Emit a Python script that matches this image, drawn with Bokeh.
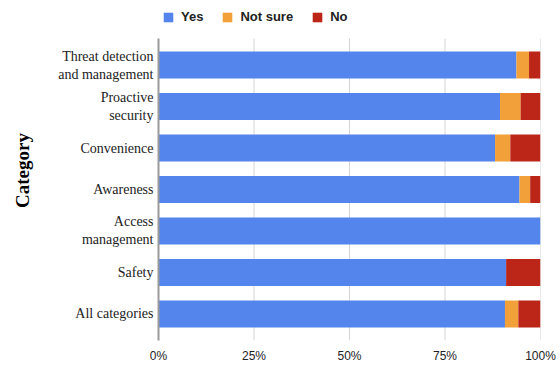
from bokeh.plotting import figure
from bokeh.models import ColumnDataSource, FixedTicker, Legend
from bokeh.embed import file_html
from bokeh.resources import INLINE

# Data (top to bottom in the chart)
categories = ["Threat detection\nand management", "Proactive\nsecurity", "Convenience",
              "Awareness", "Access\nmanagement", "Safety", "All categories"]
yes = [93.7, 89.4, 88.1, 94.5, 100.0, 91.0, 90.7]
not_sure = [3.3, 5.4, 4.0, 2.8, 0.0, 0.0, 3.5]
no = [3.0, 5.2, 7.9, 2.7, 0.0, 9.0, 5.8]
series_names = ["Yes", "Not sure", "No"]
colors = ["#5485EC", "#F2A13A", "#BB2619"]
x_ticks = [0, 25, 50, 75, 100]
x_tick_labels = ["0%", "25%", "50%", "75%", "100%"]

n = len(categories)
ypos = [n - 1 - i for i in range(n)]

source = ColumnDataSource(dict(y=ypos, yes=yes, not_sure=not_sure, no=no))

W, H = 560, 366
TOP, BOTTOM, LEFT, RIGHT = 0, 26, 158, 20
PAD = 0.64          # space above/below the outer bars, in category units
HEADROOM = 0.916    # extra room above the bars for the legend
y_lo, y_hi = -PAD, n - 1 + PAD
p = figure(width=W, height=H, output_backend="svg", toolbar_location=None,
           x_range=(0, 100), y_range=(y_lo, y_hi + HEADROOM),
           min_border_left=LEFT, min_border_right=RIGHT, min_border_top=TOP,
           min_border_bottom=BOTTOM)
p.outline_line_color = None
p.xgrid.grid_line_color = None
p.ygrid.grid_line_color = None

# vertical grid lines, limited to the bar area
grid_x = x_ticks[1:]
p.segment(x0=grid_x, x1=grid_x, y0=[y_lo] * len(grid_x), y1=[y_hi] * len(grid_x),
          line_color="#d6d6d6", line_width=1)

renderers = p.hbar_stack(["yes", "not_sure", "no"], y="y", height=0.65, color=colors,
                         line_color=None, source=source)

frame_h = H - TOP - BOTTOM
legend = Legend(items=[(name, [r]) for name, r in zip(series_names, renderers)],
                orientation="horizontal", location=(4, frame_h - 24),
                glyph_width=12, glyph_height=12, label_standoff=7, spacing=18,
                padding=0, margin=0, border_line_color=None, background_fill_alpha=0,
                label_text_font="Liberation Sans", label_text_font_style="bold",
                label_text_font_size="13px", label_text_color="#222222")
p.add_layout(legend, "center")

# x axis
p.xaxis.ticker = FixedTicker(ticks=x_ticks)
p.xaxis.major_label_overrides = {t: l for t, l in zip(x_ticks, x_tick_labels)}
p.xaxis.axis_line_color = None
p.xaxis.major_tick_line_color = None
p.xaxis.major_tick_out = 0
p.xaxis.major_tick_in = 0
p.xaxis.minor_tick_line_color = None
p.xaxis.minor_tick_out = 0
p.xaxis.major_label_text_font = "Liberation Sans"
p.xaxis.major_label_text_font_size = "12px"
p.xaxis.major_label_text_color = "#222222"
p.xaxis.major_label_standoff = 8

# y axis
p.yaxis.ticker = FixedTicker(ticks=ypos)
p.yaxis.bounds = (y_lo, y_hi)
p.yaxis.major_label_overrides = {y: c for y, c in zip(ypos, categories)}
p.yaxis.axis_line_color = "#9a9a9a"
p.yaxis.axis_line_width = 2
p.yaxis.major_tick_line_color = None
p.yaxis.major_tick_out = 0
p.yaxis.major_tick_in = 0
p.yaxis.minor_tick_line_color = None
p.yaxis.minor_tick_out = 0
p.yaxis.major_label_text_font = "Liberation Serif"
p.yaxis.major_label_text_font_size = "14px"
p.yaxis.major_label_text_color = "#222222"
p.yaxis.major_label_standoff = 5
p.yaxis.axis_label = "Category"
p.yaxis.axis_label_text_font = "Liberation Serif"
p.yaxis.axis_label_text_font_style = "bold"
p.yaxis.axis_label_text_font_size = "19px"
p.yaxis.axis_label_text_color = "#000000"
p.yaxis.axis_label_standoff = 22

open("out.html", "w").write(file_html(p, INLINE))
